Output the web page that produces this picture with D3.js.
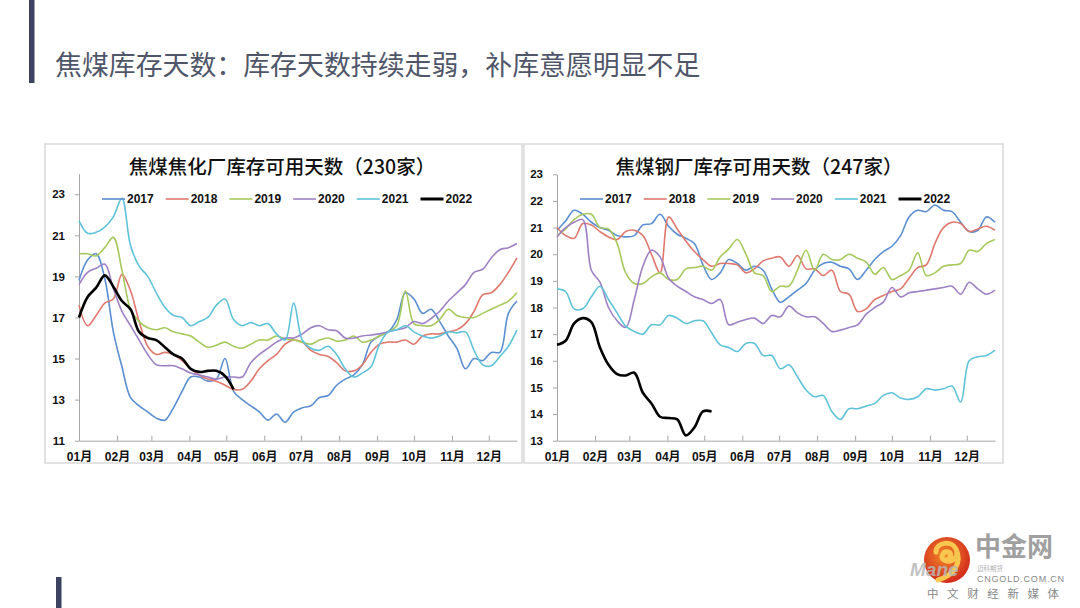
<!DOCTYPE html>
<html>
<head>
<meta charset="utf-8">
<script src="https://cdn.jsdelivr.net/npm/d3@7"></script>
<style>
  body { margin: 0; background: #fff; }
  svg { display: block; }
</style>
</head>
<body>
<div id="chart-area"></div>
<script>
// weekly data, first week = Jan 1, 52 weeks per year
const years = ['2017', '2018', '2019', '2020', '2021', '2022'];
const colors = ['#5b8fd1', '#e0786e', '#a6c95c', '#9e81c4', '#5ec3d9', '#000000'];
const monthTicks = d3.range(12).map(m => new Date(2022, m, 1));

// 焦化厂 230家
const coking2017 = [18.8,19.8,20.1,18.9,16.3,14.6,13.1,12.7,12.4,12.1,12.0,12.6,13.4,14.1,14.1,13.9,14.0,15.0,13.4,13.0,12.7,12.4,12.0,12.3,11.9,12.4,12.6,12.7,13.1,13.2,13.7,14.0,14.2,14.7,15.8,16.1,16.3,16.9,18.2,17.9,17.2,17.4,16.8,16.1,15.5,14.5,15.0,14.9,15.3,15.3,17.2,17.8];
const coking2018 = [17.6,16.6,17.1,17.7,17.9,19.1,18.3,16.8,15.6,15.2,15.3,15.2,14.9,14.5,14.2,14.0,13.9,13.7,13.5,13.5,13.9,14.5,14.9,15.2,15.7,15.9,15.8,15.4,15.2,15.1,14.8,14.4,14.4,14.7,15.3,15.7,15.8,15.8,15.9,15.7,16.1,16.2,16.2,16.3,16.4,16.7,17.3,18.1,18.2,18.6,19.2,19.9];
const coking2019 = [20.1,20.1,20.0,20.4,20.9,19.3,17.4,16.8,16.5,16.4,16.5,16.3,16.2,16.1,15.8,15.55,15.65,15.8,15.6,15.5,15.7,15.9,15.9,16.1,15.95,15.9,15.8,15.7,15.9,16.0,15.85,15.9,16.1,15.8,15.9,16.1,16.3,16.6,18.3,16.7,16.6,16.6,16.9,17.4,17.1,17.0,17.0,17.2,17.4,17.6,17.8,18.2];
const coking2020 = [18.6,19.2,19.4,19.6,18.4,17.3,16.6,15.9,15.2,14.7,14.65,14.65,14.5,14.3,14.2,14.1,14.0,14.1,14.1,14.1,14.8,15.2,15.5,15.8,16.0,16.0,16.2,16.5,16.6,16.4,16.35,16.0,16.0,16.1,16.15,16.2,16.3,16.4,16.5,16.8,16.7,16.95,17.3,17.8,18.2,18.6,19.2,19.35,19.9,20.3,20.4,20.6];
const coking2021 = [21.7,21.1,21.15,21.4,21.9,22.8,20.5,19.5,19.0,18.2,17.5,17.1,17.0,16.6,16.8,17.0,17.6,17.9,16.9,16.6,16.75,16.6,16.7,16.2,15.9,17.7,15.9,15.5,15.4,15.6,15.2,14.5,14.1,14.3,14.6,15.7,16.3,16.4,16.6,16.3,16.1,16.0,16.1,16.3,16.25,16.3,15.4,14.7,14.65,15.1,15.6,16.4];
const coking2022 = [17.0,18.0,18.45,19.05,18.5,17.8,17.4,16.3,16.0,15.9,15.55,15.2,15.0,14.5,14.35,14.4,14.4,14.15,13.5];

// 钢厂 247家
const steel2017 = [20.9,21.25,21.65,21.5,21.2,21.0,20.9,20.7,20.65,20.7,21.1,21.15,21.5,21.05,20.75,20.6,20.4,19.6,19.05,19.3,19.8,19.65,19.4,19.55,19.4,18.7,18.2,18.4,18.65,18.9,19.4,19.65,19.7,19.55,19.45,19.05,19.4,19.8,20.1,20.3,20.7,21.4,21.65,21.6,21.85,21.65,21.6,21.2,20.85,20.9,21.4,21.2];
const steel2018 = [21.0,20.7,20.6,21.15,21.1,20.85,20.65,20.55,20.85,20.9,20.7,20.0,19.3,21.4,20.95,20.5,20.1,19.8,19.55,19.65,19.65,19.6,19.3,19.45,19.75,19.85,19.9,19.55,19.95,19.45,19.45,19.2,19.4,18.6,18.5,17.85,17.95,18.3,18.45,18.6,18.7,19.1,19.5,19.6,20.4,21.0,21.2,21.15,20.85,20.95,21.05,20.9];
const steel2019 = [20.7,20.95,21.3,21.5,21.5,21.0,20.95,20.4,19.3,18.9,18.9,19.15,19.3,19.05,19.05,19.45,19.5,19.55,19.4,19.9,20.2,20.55,20.0,19.3,19.2,18.6,18.8,18.8,19.4,20.15,19.4,20.0,19.8,19.8,20.0,19.85,19.7,19.25,19.5,19.05,19.2,19.4,20.05,19.2,19.3,19.55,19.6,19.65,20.15,20.1,20.4,20.55];
const steel2020 = [20.65,21.0,21.2,21.3,19.4,18.95,18.0,17.5,17.25,18.3,19.55,20.15,19.9,19.1,18.8,18.6,18.4,18.3,18.15,18.3,17.35,17.45,17.55,17.6,17.4,17.7,17.65,18.05,17.8,17.65,17.65,17.4,17.1,17.15,17.25,17.35,17.75,18.0,18.2,18.75,18.4,18.55,18.6,18.65,18.7,18.75,18.8,18.5,18.95,18.7,18.5,18.65];
const steel2021 = [18.7,18.6,17.95,17.95,18.4,18.8,18.3,17.8,17.3,17.1,17.0,17.35,17.35,17.7,17.6,17.4,17.5,17.5,17.05,16.6,16.5,16.35,16.65,16.65,16.2,16.2,15.7,15.85,15.4,14.9,14.65,14.7,14.1,13.8,14.2,14.2,14.3,14.4,14.7,14.8,14.6,14.55,14.65,14.95,14.9,14.95,15.05,14.45,16.0,16.15,16.2,16.4];
const steel2022 = [16.6,16.75,17.4,17.6,17.45,16.5,15.85,15.5,15.45,15.55,14.8,14.4,13.9,13.85,13.8,13.2,13.5,14.1,14.1];

const weekDate = (i) => new Date(2022, 0, 1 + 7 * i);

const svgWidth = 1080, svgHeight = 608;
const svg = d3.select('#chart-area')
  .append('svg')
    .attr('width', svgWidth)
    .attr('height', svgHeight);

// slide decorations
svg.append('rect').attr('x', 29).attr('y', 0).attr('width', 5.5).attr('height', 83).attr('fill', '#3d4260');
svg.append('rect').attr('x', 56).attr('y', 577).attr('width', 5.5).attr('height', 31).attr('fill', '#3d4260');

svg.append('text')
  .text('焦煤库存天数：库存天数持续走弱，补库意愿明显不足')
  .attr('x', 55)
  .attr('y', 75)
  .attr('font-family', 'Noto Sans CJK SC')
  .attr('font-size', 26.9)
  .attr('fill', '#50566a');

function drawChart(cfg) {
  const g = svg.append('g');

  g.append('rect')
    .attr('x', cfg.frame[0]).attr('y', cfg.frame[1])
    .attr('width', cfg.frame[2] - cfg.frame[0]).attr('height', cfg.frame[3] - cfg.frame[1])
    .attr('fill', 'none')
    .attr('stroke', '#d9d9d9')
    .attr('stroke-width', 1.5);

  const x = d3.scaleTime()
    .domain([weekDate(0), weekDate(51)])
    .range([cfg.left, cfg.right]);
  const y = d3.scaleLinear()
    .domain(cfg.yDomain)
    .range([cfg.bottom, cfg.top]);

  g.append('text')
    .text(cfg.title)
    .attr('x', cfg.titleX)
    .attr('y', 174)
    .attr('text-anchor', 'middle')
    .attr('font-family', 'Noto Sans CJK SC')
    .attr('font-size', 19.5)
    .attr('font-weight', 500)
    .attr('fill', '#111');

  const yAxis = g.append('g')
    .attr('transform', `translate(${cfg.left},0)`)
    .call(d3.axisLeft(y).tickValues(cfg.yTicks).tickSize(4).tickSizeOuter(0).tickPadding(10));
  const xAxis = g.append('g')
    .attr('transform', `translate(0,${cfg.bottom})`)
    .call(d3.axisBottom(x).tickValues(monthTicks).tickSize(-5).tickSizeOuter(0)
      .tickFormat(d3.timeFormat('%m月')));

  [yAxis, xAxis].forEach(a => {
    a.select('.domain').attr('stroke', '#a6a6a6');
    a.selectAll('.tick line').attr('stroke', '#a6a6a6');
    a.selectAll('text')
      .attr('font-family', 'Liberation Sans, Noto Sans CJK SC')
      .attr('font-weight', 'bold')
      .attr('fill', '#111');
  });
  yAxis.selectAll('text').attr('font-size', 11.5);
  xAxis.selectAll('text').attr('font-size', 12).attr('y', 12).attr('dy', '0.71em');

  const line = d3.line()
    .x((d, i) => x(weekDate(i)))
    .y(d => y(d))
    .curve(d3.curveCatmullRom.alpha(0.5));

  cfg.series.forEach((s, k) => {
    g.append('path')
      .datum(s)
      .attr('d', line)
      .attr('fill', 'none')
      .attr('stroke', colors[k])
      .attr('stroke-width', k === 5 ? 2.6 : 1.6)
      .attr('stroke-linejoin', 'round');
  });

  const legend = g.selectAll('.legend')
    .data(years)
    .enter()
    .append('g')
      .attr('transform', (d, i) => `translate(${cfg.legendX + i * 63.7},199)`);
  legend.append('line')
    .attr('x1', 0).attr('x2', 23)
    .attr('stroke', (d, i) => colors[i])
    .attr('stroke-width', (d, i) => i === 5 ? 3 : 1.6);
  legend.append('text')
    .text(d => d)
    .attr('x', 25)
    .attr('y', 4.3)
    .attr('font-family', 'Liberation Sans')
    .attr('font-weight', 'bold')
    .attr('font-size', 12)
    .attr('fill', '#111');
}

drawChart({
  frame: [45, 144, 522, 463],
  left: 79, right: 517, top: 173.7, bottom: 440.7,
  yDomain: [11, 24],
  yTicks: [11, 13, 15, 17, 19, 21, 23],
  title: '焦煤焦化厂库存可用天数（230家）',
  titleX: 282,
  legendX: 102,
  series: [coking2017, coking2018, coking2019, coking2020, coking2021, coking2022]
});

drawChart({
  frame: [524, 144, 1003, 463],
  left: 557, right: 995, top: 174.3, bottom: 440.7,
  yDomain: [13, 23],
  yTicks: d3.range(13, 24),
  title: '焦煤钢厂库存可用天数（247家）',
  titleX: 759,
  legendX: 580,
  series: [steel2017, steel2018, steel2019, steel2020, steel2021, steel2022]
});

// logo
const logo = svg.append('g');
const grad = svg.append('defs').append('radialGradient')
  .attr('id', 'logoGrad').attr('cx', '45%').attr('cy', '40%').attr('r', '60%');
grad.append('stop').attr('offset', '0%').attr('stop-color', '#f28a2a');
grad.append('stop').attr('offset', '100%').attr('stop-color', '#d32a1c');
logo.append('circle').attr('cx', 947).attr('cy', 560).attr('r', 23).attr('fill', 'url(#logoGrad)');
logo.append('path')
  .attr('d', 'M936,552 C936,542 952,540 956,549 C960,558 950,564 944,560 C940,557 943,551 948,552 C952,553 951,558 948,559 M956,549 C962,562 955,575 938,580')
  .attr('fill', 'none')
  .attr('stroke', '#f9c74f')
  .attr('stroke-width', 5)
  .attr('stroke-linecap', 'round');
logo.append('text')
  .text('Mane')
  .attr('x', 910).attr('y', 576)
  .attr('font-family', 'Liberation Sans')
  .attr('font-weight', 'bold')
  .attr('font-style', 'italic')
  .attr('font-size', 19)
  .attr('fill', '#b8b8b8')
  .attr('opacity', 0.85);
logo.append('text')
  .text('中金网')
  .attr('x', 975).attr('y', 556)
  .attr('font-family', 'Noto Sans CJK SC')
  .attr('font-weight', 'bold')
  .attr('font-size', 26)
  .attr('fill', '#a0a0a0');
logo.append('text')
  .text('迈科期货')
  .attr('x', 977).attr('y', 570.5)
  .attr('font-family', 'Noto Sans CJK SC')
  .attr('font-size', 6.5)
  .attr('fill', '#b0b0b0');
logo.append('text')
  .text('CNGOLD.COM.CN')
  .attr('x', 977).attr('y', 582)
  .attr('font-family', 'Liberation Sans')
  .attr('font-size', 9)
  .attr('textLength', 87)
  .attr('fill', '#888');
logo.append('text')
  .text('中文财经新媒体')
  .attr('x', 927).attr('y', 598)
  .attr('font-family', 'Noto Sans CJK SC')
  .attr('font-size', 11.5)
  .attr('letter-spacing', 8.6)
  .attr('fill', '#888');
</script>
</body>
</html>
